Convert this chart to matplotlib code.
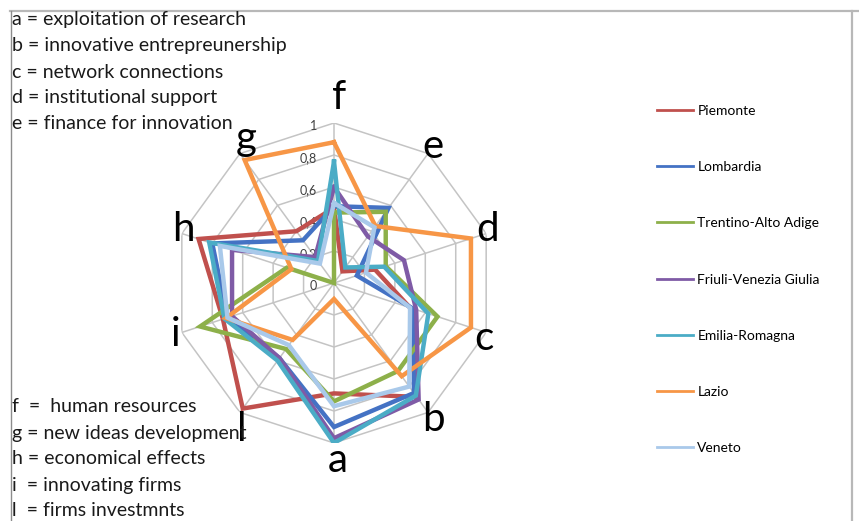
import numpy as np
import matplotlib.pyplot as plt
from matplotlib.lines import Line2D

# =====================
# data
# =====================
axis_labels = ["f", "e", "d", "c", "b", "a", "l", "i", "h", "g"]

regions = ["Piemonte", "Lombardia", "Trentino-Alto Adige", "Friuli-Venezia Giulia",
           "Emilia-Romagna", "Lazio", "Veneto"]
colors = ["#C0504D", "#4472C4", "#8DB04A", "#7F5BA6", "#4BACC6", "#F79646", "#A9C9EA"]

# values in axis order f, e, d, c, b, a, l, i, h, g
piemonte = [0.47, 0.09, 0.27, 0.50, 0.88, 0.69, 0.97, 0.73, 0.89, 0.40]
lombardia = [0.48, 0.58, 0.15, 0.52, 0.85, 0.90, 0.58, 0.70, 0.80, 0.33]
trentino = [0.44, 0.55, 0.34, 0.68, 0.68, 0.74, 0.51, 0.88, 0.31, 0.00]
friuli = [0.60, 0.36, 0.46, 0.54, 0.90, 0.97, 0.58, 0.67, 0.67, 0.20]
emilia = [0.76, 0.12, 0.33, 0.62, 0.87, 1.00, 0.60, 0.72, 0.82, 0.17]
lazio = [0.88, 0.44, 0.90, 0.90, 0.72, 0.10, 0.44, 0.71, 0.28, 0.95]
veneto = [0.50, 0.43, 0.21, 0.50, 0.80, 0.77, 0.48, 0.70, 0.75, 0.15]
series = [piemonte, lombardia, trentino, friuli, emilia, lazio, veneto]

ring_values = [0, 0.2, 0.4, 0.6, 0.8, 1]
ring_labels = ["0", "0,2", "0,4", "0,6", "0,8", "1"]

key_top = ["a = exploitation of research",
           "b = innovative entrepreunership",
           "c = network connections",
           "d = institutional support",
           "e = finance for innovation"]
key_bottom = ["f  =  human resources",
              "g = new ideas development",
              "h = economical effects",
              "i  = innovating firms",
              "l  = firms investmnts"]

# =====================
# figure
# =====================
W, H = 859, 521
fig = plt.figure(figsize=(W / 100, H / 100), dpi=100)
fig.patch.set_facecolor("white")

cx, cy, R = 334, 283, 160
ax = fig.add_axes([(cx - R) / W, (H - cy - R) / H, 2 * R / W, 2 * R / H], projection="polar")
ax.set_theta_zero_location("N")
ax.set_theta_direction(-1)
ax.set_ylim(0, 1)
ax.grid(False)
ax.spines["polar"].set_visible(False)
ax.set_xticks([])
ax.set_yticks([])
ax.patch.set_alpha(0)

n = len(axis_labels)
angles = np.linspace(0, 2 * np.pi, n, endpoint=False)
closed = np.append(angles, angles[0])

# decagon grid + spokes
grid_c = "#C4C4C4"
for r in ring_values[1:]:
    ax.plot(closed, [r] * (n + 1), color=grid_c, lw=1.1, zorder=1)
for a in angles:
    ax.plot([a, a], [0, 1], color=grid_c, lw=1.1, zorder=1)

# series
for vals, col, name in zip(series, colors, regions):
    ax.plot(closed, vals + vals[:1], color=col, lw=3.2, zorder=3,
            solid_joinstyle="miter", label=name)

# ring value labels along the top spoke
for r, lbl in zip(ring_values, ring_labels):
    ax.annotate(lbl, xy=(0, r), xytext=(-12, -2), textcoords="offset points",
                ha="right", va="center", fontsize=9, color="#404040",
                family="Lato", zorder=2)

# category letters, nudged off the outer ring (pixels, x right / y up)
label_off = [(5, 26), (5, 7), (1, 4), (-2, -6), (5, -7),
             (4, -17), (2, -17), (-6, -2), (2, 4), (6, 15)]
for a, lbl, off in zip(angles, axis_labels, label_off):
    ax.annotate(lbl, xy=(a, 1), xytext=off, textcoords="offset pixels",
                ha="center", va="center", fontsize=29, family="Lato",
                color="black", zorder=4)

# legend on the right
handles = [Line2D([0], [0], color=c, lw=2) for c in colors]
fig.legend(handles, regions, loc="upper left",
           bbox_to_anchor=(657 / W, 1 - 105 / H), frameon=False,
           prop={"family": "Lato", "size": 10}, labelspacing=3.18,
           handlelength=2.6, handletextpad=0.3, borderpad=0, borderaxespad=0)

# key boxes on the left
for i, t in enumerate(key_top):
    fig.text(12 / W, 1 - (20 + 26 * i) / H, t, ha="left", va="center",
             fontsize=14, family="Lato", color="#1a1a1a")
for i, t in enumerate(key_bottom):
    fig.text(12 / W, 1 - (407 + 26 * i) / H, t, ha="left", va="center",
             fontsize=14, family="Lato", color="#1a1a1a")

# chart frame
frame_c = "#B8B8B8"
fig.add_artist(Line2D([10 / W, 1], [1 - 11 / H, 1 - 11 / H], color=frame_c, lw=1.6))
fig.add_artist(Line2D([11 / W, 11 / W], [0, 1 - 11 / H], color="#8C8C8C", lw=1.0))
fig.add_artist(Line2D([852 / W, 852 / W], [0, 1 - 11 / H], color=frame_c, lw=1.6))

fig.savefig("out.png", dpi=100, facecolor="white")
